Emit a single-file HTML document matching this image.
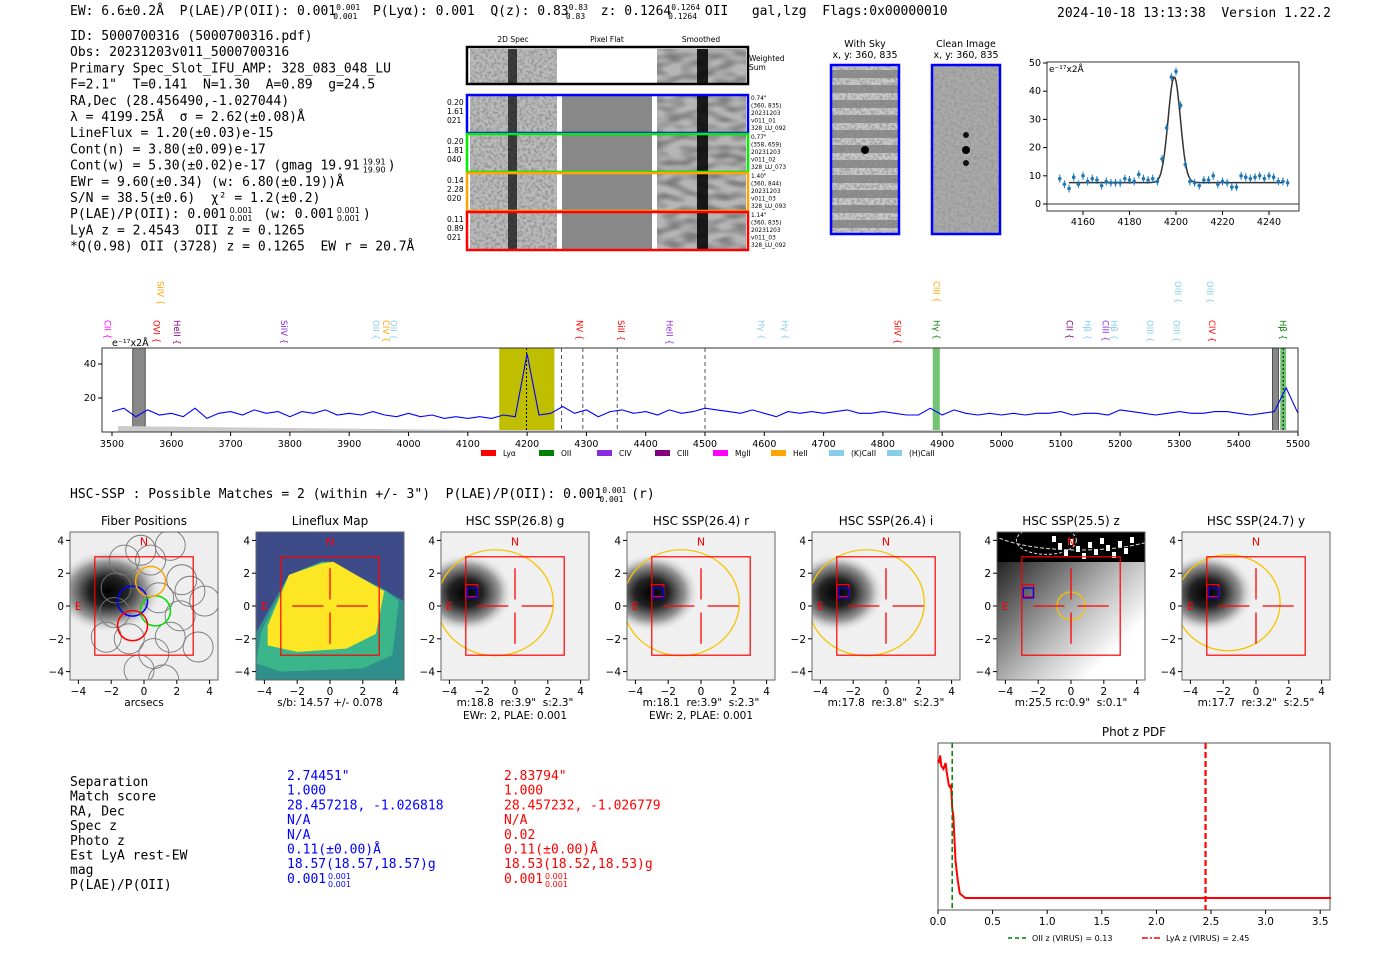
<!DOCTYPE html>
<html><head><meta charset="utf-8">
<style>
body{margin:0;background:#fff;width:1400px;height:953px;overflow:hidden}
svg{display:block}
text{white-space:pre}
.m{font-family:"DejaVu Sans Mono","Liberation Mono",monospace;font-size:13px}
.s{font-family:"DejaVu Sans","Liberation Sans",sans-serif}
</style></head>
<body>
<svg id="root" width="1400" height="953" viewBox="0 0 1400 953" xmlns="http://www.w3.org/2000/svg" xml:space="preserve">
<defs>
<filter id="noise" x="0" y="0" width="100%" height="100%"><feTurbulence type="fractalNoise" baseFrequency="0.35" numOctaves="2" seed="3"/><feColorMatrix type="matrix" values="0 0 0 0 0.3  0 0 0 0 0.3  0 0 0 0 0.3  0 0 0 -3 1.8"/></filter>
<filter id="smooth" x="0" y="0" width="100%" height="100%"><feTurbulence type="fractalNoise" baseFrequency="0.06 0.15" numOctaves="1" seed="5"/><feColorMatrix type="matrix" values="0 0 0 0 0.2  0 0 0 0 0.2  0 0 0 0 0.2  0 0 0 -2.5 1.6"/></filter>
<radialGradient id="blob" cx="0.5" cy="0.5" r="0.5"><stop offset="0" stop-color="#000"/><stop offset="0.35" stop-color="#222"/><stop offset="0.7" stop-color="#999"/><stop offset="1" stop-color="#f4f4f4" stop-opacity="0"/></radialGradient>
<linearGradient id="zgrad" x1="0" y1="0" x2="1" y2="1"><stop offset="0" stop-color="#000"/><stop offset="0.55" stop-color="#bbb"/><stop offset="0.8" stop-color="#fff"/></linearGradient>
</defs>

<text class="m" x="70" y="15">EW: 6.6±0.2Å  P(LAE)/P(OII): 0.001<tspan font-size="8" dy="-5">0.001</tspan><tspan font-size="8" dx="-27" dy="9">0.001</tspan><tspan dy="-4">  P(Lyα): 0.001  Q(z): 0.83</tspan><tspan font-size="8" dy="-5">0.83</tspan><tspan font-size="8" dx="-22" dy="9">0.83</tspan><tspan dy="-4">  z: 0.1264</tspan><tspan font-size="8" dy="-5">0.1264</tspan><tspan font-size="8" dx="-32" dy="9">0.1264</tspan><tspan dy="-4"> OII   gal,lzg  Flags:0x00000010</tspan></text>
<text class="m" x="1057" y="17">2024-10-18 13:13:38  Version 1.22.2</text>

<g id="info"></g>
<g id="spec2d"></g>
<g id="fit"></g>
<g id="spec"></g>
<text class="m" x="70" y="498">HSC-SSP : Possible Matches = 2 (within +/- 3")  P(LAE)/P(OII): 0.001<tspan font-size="8" dy="-5">0.001</tspan><tspan font-size="8" dx="-27" dy="9">0.001</tspan><tspan dy="-4"> (r)</tspan></text>
<g id="cut"></g>
<g id="tbl"></g>
<g id="pdf"></g>
</svg>
<script>
// ---------- DATA ----------
const infoLines=['ID: 5000700316 (5000700316.pdf)','Obs: 20231203v011_5000700316','Primary Spec_Slot_IFU_AMP: 328_083_048_LU','F=2.1"  T=0.141  N=1.30  A=0.89  g=24.5','RA,Dec (28.456490,-1.027044)','λ = 4199.25Å  σ = 2.62(±0.08)Å','LineFlux = 1.20(±0.03)e-15','Cont(n) = 3.80(±0.09)e-17','Cont(w) = 5.30(±0.02)e-17 (gmag 19.91','EWr = 9.60(±0.34) (w: 6.80(±0.19))Å','S/N = 38.5(±0.6)  χ² = 1.2(±0.2)','P(LAE)/P(OII): 0.001','LyA z = 2.4543  OII z = 0.1265','*Q(0.98) OII (3728) z = 0.1265  EW r = 20.7Å'];
const specStart=3500, specStep=20;
const specFlux=[12,14,9,13,10,11,9,14,8,11,12,10,13,11,12,9,12,11,13,10,11,10,12,10,9,11,9,10,8,9,8,9,8,10,9,46,10,11,15,11,13,9,12,13,11,12,10,13,11,12,14,13,12,11,13,11,9,12,11,12,11,12,13,11,11,12,11,10,10,14,10,13,11,10,11,10,11,10,11,11,12,10,11,11,10,13,12,11,10,11,12,11,11,12,12,11,10,11,12,26,11];
const specTicks=[3500,3600,3700,3800,3900,4000,4100,4200,4300,4400,4500,4600,4700,4800,4900,5000,5100,5200,5300,5400,5500];
const specYTicks=[20,40];
const lineNames=['CII','OVI','HeII','SiIV','SiIV','OII','CIV','OII','NV','SiII','HeII','Hγ','Hγ','SiIV','Hγ','CIII','CII','Hβ','CIII','Hβ','OIII','OIII','CIV','OIII','OIII','Hβ'];
const lineWaves=[3492,3575,3610,3790,3582,3945,3962,3975,4288,4358,4440,4595,4635,4825,4890,4890,5115,5145,5175,5190,5250,5295,5355,5298,5352,5475];
const lineRow=[1,1,1,1,0,1,1,1,1,1,1,1,1,1,1,0,1,1,1,1,1,1,1,0,0,1];
const lineColors=['#ff00ff','#ff0000','#800080','#8a2be2','#ffa500','#87ceeb','#ffa500','#87ceeb','#ff0000','#ff0000','#8a2be2','#87ceeb','#87ceeb','#ff0000','#008000','#ffa500','#800080','#87ceeb','#8a2be2','#87ceeb','#87ceeb','#87ceeb','#ff0000','#87ceeb','#87ceeb','#008000'];
const legendNames=['Lyα','OII','CIV','CIII','MgII','HeII','(K)CaII','(H)CaII'];
const legendColors=['#ff0000','#008000','#8a2be2','#800080','#ff00ff','#ffa500','#87ceeb','#87ceeb'];
const fitWave=[4150,4152,4154,4156,4158,4160,4162,4164,4166,4168,4170,4172,4174,4176,4178,4180,4182,4184,4186,4188,4190,4192,4194,4196,4198,4200,4202,4204,4206,4208,4210,4212,4214,4216,4218,4220,4222,4224,4226,4228,4230,4232,4234,4236,4238,4240,4242,4244,4246,4248];
const fitFlux=[9,7,5.5,9.5,7,10,8,9,8.5,6.5,8,7.5,7.5,7.5,9,8.5,8,10.5,9,8.5,9,8,16,27,45,47,35,14,8,7.5,6.5,8.5,8.5,10,7,8,7.5,6,6,10,9.5,9,9.5,10,9,10,9.5,8,8,7.5];
const fitTicksX=[4160,4180,4200,4220,4240];
const fitTicksY=[0,10,20,30,40,50];
const fitCont=7.6, fitAmp=37.5, fitCenter=4199.25, fitSigma=2.62;
const pdfZ=[0,0.01,0.02,0.03,0.05,0.07,0.08,0.1,0.11,0.12,0.13,0.14,0.15,0.16,0.18,0.2,0.25,0.5,1,2,3,3.6];
const pdfP=[0.92,0.9,0.95,0.88,0.86,0.9,0.84,0.75,0.74,0.75,0.6,0.55,0.4,0.25,0.12,0.03,0.0,0.0,0.0,0.0,0.0,0.0];
const pdfTicks=[0,0.5,1,1.5,2,2.5,3,3.5];
const oiiZ=0.13, lyaZ=2.45;
const panelTitles=['Fiber Positions','Lineflux Map','HSC SSP(26.8) g','HSC SSP(26.4) r','HSC SSP(26.4) i','HSC SSP(25.5) z','HSC SSP(24.7) y'];
const panelX=[70,256,441,627,812,997,1182];
const panelCap1=['arcsecs','s/b: 14.57 +/- 0.078','m:18.8  re:3.9"  s:2.3"','m:18.1  re:3.9"  s:2.3"','m:17.8  re:3.8"  s:2.3"','m:25.5 rc:0.9"  s:0.1"','m:17.7  re:3.2"  s:2.5"'];
const panelCap2=['','','EWr: 2, PLAE: 0.001','EWr: 2, PLAE: 0.001','','',''];
const axTicks=[-4,-2,0,2,4];
const tblLabels=['Separation','Match score','RA, Dec','Spec z','Photo z','Est LyA rest-EW','mag','P(LAE)/P(OII)'];
const tblBlue=['2.74451"','1.000','28.457218, -1.026818','N/A','N/A','0.11(±0.00)Å','18.57(18.57,18.57)g','0.001'];
const tblRed=['2.83794"','1.000','28.457232, -1.026779','N/A','0.02','0.11(±0.00)Å','18.53(18.52,18.53)g','0.001'];
const rowInfo=[['0.20','1.61','021'],['0.20','1.81','040'],['0.14','2.28','020'],['0.11','0.89','021']];
const rowMeta=[['0.74"','(360, 835)','20231203','v011_01','328_LU_092'],['0.77"','(358, 659)','20231203','v011_02','328_LU_073'],['1.40"','(360, 844)','20231203','v011_03','328_LU_093'],['1.14"','(360, 835)','20231203','v011_03','328_LU_092']];
const rowColors=['#0000ff','#00ee00','#ffa500','#ff0000'];

// ---------- helpers ----------
const NS='http://www.w3.org/2000/svg';
function mk(p,tag,a,txt){const e=document.createElementNS(NS,tag);for(const k in a)e.setAttribute(k,a[k]);if(txt!==undefined)e.textContent=txt;p.appendChild(e);return e;}
const $=id=>document.getElementById(id);
const CW=7.83;

const info=$('info');
infoLines.forEach((t,i)=>{const e=mk(info,'text',{class:'m',x:70,y:40+i*16.2},t);

});
function sup(x,y,a,b){mk(info,'text',{class:'s','font-size':8,x:x,y:y-5},a);mk(info,'text',{class:'s','font-size':8,x:x,y:y+3},b);}
{const y=40+8*16.2;const x=70+infoLines[8].length*CW+3;sup(x,y,'19.91','19.90');mk(info,'text',{class:'m',x:x+25,y:y},')');}
{const y=40+11*16.2;let x=70+infoLines[11].length*CW+3;sup(x,y,'0.001','0.001');x+=26;mk(info,'text',{class:'m',x:x,y:y},' (w: 0.001');x+=10*CW+3;sup(x,y,'0.001','0.001');mk(info,'text',{class:'m',x:x+26,y:y},')');}

// 2D spectra
const s2=$('spec2d');
[['2D Spec',513],['Pixel Flat',607],['Smoothed',701]].forEach(([t,x])=>{const e=mk(s2,'text',{class:'s','font-size':7.5,x:x,y:42,'text-anchor':'middle'},t);

});
function strip(y,h,white){
 mk(s2,'rect',{x:470,y:y,width:87,height:h,fill:'#bbb'});
 mk(s2,'rect',{x:470,y:y,width:87,height:h,filter:'url(#noise)'});
 mk(s2,'rect',{x:508,y:y,width:9,height:h,fill:'#111',opacity:0.75});
 mk(s2,'rect',{x:562,y:y,width:90,height:h,fill:white?'#fff':'#888'});
 mk(s2,'rect',{x:657,y:y,width:89,height:h,fill:'#b5b5b5'});
 mk(s2,'rect',{x:657,y:y,width:89,height:h,filter:'url(#smooth)'});
 mk(s2,'rect',{x:697,y:y,width:11,height:h,fill:'#000',opacity:0.85});
}
strip(49,34,true);
const wb=mk(s2,'rect',{x:467,y:47,width:281,height:37,fill:'none',stroke:'#000','stroke-width':2.5});


mk(s2,'text',{class:'s','font-size':7.5,x:749,y:61},'Weighted');
mk(s2,'text',{class:'s','font-size':7.5,x:749,y:70},'Sum');
rowColors.forEach((c,i)=>{const y=96+i*39;strip(y,36,false);
 const b=mk(s2,'rect',{x:467,y:y-1,width:281,height:38,fill:'none',stroke:c,'stroke-width':2.5});
 
 
 rowInfo[i].forEach((t,j)=>mk(s2,'text',{class:'s','font-size':7.5,x:447,y:y+9+j*9},t));
 rowMeta[i].forEach((t,j)=>mk(s2,'text',{class:'s','font-size':5.8,x:751,y:y+4+j*7.5},t));
});
[['With Sky',865,'#c8c8c8'],['Clean Image',966,'#aaa']].forEach(([t,cx,f],k)=>{
 mk(s2,'text',{class:'s','font-size':9.5,x:cx,y:47,'text-anchor':'middle'},t);
 mk(s2,'text',{class:'s','font-size':9.5,x:cx,y:58,'text-anchor':'middle'},'x, y: 360, 835');
 mk(s2,'rect',{x:cx-33,y:66,width:66,height:167,fill:f});
 if(k==0){for(let i=0;i<11;i++)mk(s2,'rect',{x:cx-33,y:70+i*15,width:66,height:8,fill:'#555',opacity:0.55});}
 mk(s2,'rect',{x:cx-33,y:66,width:66,height:167,filter:'url(#noise)',opacity:0.8});
 mk(s2,'circle',{cx:cx,cy:150,r:4,fill:'#000'});
 if(k==1){mk(s2,'circle',{cx:cx,cy:135,r:3,fill:'#111'});mk(s2,'circle',{cx:cx,cy:163,r:3,fill:'#111'});}
 const b=mk(s2,'rect',{x:cx-34,y:65,width:68,height:169,fill:'none',stroke:'#0000ff','stroke-width':2.5});
 
 
});

// line fit chart
const fit=$('fit');
const fx=w=>1083+(w-4160)*2.325, fy=v=>204-v*2.82;
mk(fit,'rect',{x:1047,y:62,width:252,height:149,fill:'#fff',stroke:'#333','stroke-width':1});
mk(fit,'line',{x1:1047,x2:1299,y1:fy(0),y2:fy(0),stroke:'#333'});
fitTicksX.forEach(t=>{mk(fit,'line',{x1:fx(t),x2:fx(t),y1:211,y2:215,stroke:'#000'});mk(fit,'text',{class:'s','font-size':9.5,x:fx(t),y:225,'text-anchor':'middle'},t);});
fitTicksY.forEach(t=>{mk(fit,'line',{x1:1043,x2:1047,y1:fy(t),y2:fy(t),stroke:'#000'});mk(fit,'text',{class:'s','font-size':9.5,x:1041,y:fy(t)+3,'text-anchor':'end'},t);});
mk(fit,'text',{class:'s','font-size':9,x:1049,y:72},'e⁻¹⁷x2Å');
let fp='';for(let w=4154;w<=4246;w+=0.5){const v=fitCont+fitAmp*Math.exp(-0.5*((w-fitCenter)/fitSigma)**2);fp+=(fp?'L':'M')+fx(w).toFixed(1)+' '+fy(v).toFixed(1);}
const fl=mk(fit,'path',{d:fp,fill:'none',stroke:'#333','stroke-width':1.5});


fitWave.forEach((w,i)=>{
 mk(fit,'line',{x1:fx(w),x2:fx(w),y1:fy(fitFlux[i])-4,y2:fy(fitFlux[i])+4,stroke:'#1f77b4'});
 const p=mk(fit,'circle',{cx:fx(w),cy:fy(fitFlux[i]),r:1.8,fill:'#1f77b4'});
 
 
});

// full spectrum
const sp=$('spec');
const sx=w=>112+(w-3500)*0.593, sy=v=>432-v*1.7;
mk(sp,'rect',{x:102,y:348,width:1196,height:84,fill:'#fff'});
[[3535,3556],[5457,5467]].forEach(([a,b])=>{const r=mk(sp,'rect',{x:sx(a),y:348,width:sx(b)-sx(a),height:84,fill:'#888',stroke:'#333','stroke-width':0.8});});
const hl=mk(sp,'rect',{x:sx(4153),y:348,width:sx(4246)-sx(4153),height:84,fill:'#bfbf00'});


[[4884,4896],[5470,5480]].forEach(([a,b])=>{const r=mk(sp,'rect',{x:sx(a),y:348,width:sx(b)-sx(a),height:84,fill:'#5cb85c',opacity:0.85});});
[4258,4294,4352,4500].forEach(w=>mk(sp,'line',{x1:sx(w),x2:sx(w),y1:348,y2:432,stroke:'#555','stroke-dasharray':'4,3'}));
mk(sp,'line',{x1:sx(4199),x2:sx(4199),y1:348,y2:432,stroke:'#000','stroke-dasharray':'2,2'});
mk(sp,'line',{x1:sx(5475),x2:sx(5475),y1:348,y2:432,stroke:'#000','stroke-dasharray':'2,2'});
mk(sp,'path',{d:`M${sx(3510)} 432L${sx(3510)} 426L${sx(3800)} 428L${sx(4100)} 430L${sx(5500)} 430L${sx(5500)} 432Z`,fill:'#ccc'});
let sd='';specFlux.forEach((v,i)=>{sd+=(i?'L':'M')+sx(specStart+i*specStep).toFixed(1)+' '+sy(v).toFixed(1);});
const sl=mk(sp,'path',{d:sd,fill:'none',stroke:'#0000ff','stroke-width':1.1});


mk(sp,'rect',{x:102,y:348,width:1196,height:84,fill:'none',stroke:'#333'});
specTicks.forEach(t=>{mk(sp,'line',{x1:sx(t),x2:sx(t),y1:432,y2:436,stroke:'#000'});const e=mk(sp,'text',{class:'s','font-size':9.5,x:sx(t),y:447,'text-anchor':'middle'},t);});
specYTicks.forEach(t=>{mk(sp,'line',{x1:98,x2:102,y1:sy(t),y2:sy(t),stroke:'#000'});mk(sp,'text',{class:'s','font-size':9.5,x:96,y:sy(t)+3,'text-anchor':'end'},t);});
mk(sp,'text',{class:'s','font-size':9.5,x:112,y:346},'e⁻¹⁷x2Å');
lineNames.forEach((n,i)=>{const x=sx(lineWaves[i]);const y=lineRow[i]?320:281;
 const e=mk(sp,'text',{class:'s','font-size':8.5,fill:lineColors[i],transform:`translate(${x-3},${y}) rotate(90)`},n+' {');
 
 });
legendNames.forEach((n,i)=>{const x=481+i*58;
 mk(sp,'rect',{x:x,y:450,width:15,height:6,fill:legendColors[i]});
 const e=mk(sp,'text',{class:'s','font-size':7.5,x:x+22,y:456},n);
 
 });

// cutouts
const cut=$('cut');
panelX.forEach((x0,k)=>{
 const cp=mk(document.querySelector('defs'),'clipPath',{id:'cp'+k});
 mk(cp,'rect',{x:x0,y:532,width:148,height:148});
 const g=mk(cut,'g',{});
 
 
 const gi=mk(g,'g',{'clip-path':'url(#cp'+k+')'});
 const u=v=>x0+74+v*16.4, w=v=>606-v*16.4;
 mk(g,'text',{class:'s','font-size':12,x:x0+74,y:525,'text-anchor':'middle'},panelTitles[k]);
 if(k==1){mk(gi,'rect',{x:x0,y:532,width:148,height:148,fill:'#3e4b89'});
  mk(gi,'path',{d:`M${u(-4.5)} ${w(-1.6)}L${u(-2.5)} ${w(1.9)}L${u(-0.5)} ${w(2.7)}L${u(0)} ${w(2.7)}L${u(3.3)} ${w(1.0)}L${u(4.5)} ${w(0.3)}L${u(4.5)} ${w(-4.5)}L${u(-4.5)} ${w(-4.5)}Z`,fill:'#2f8f8a'});
  mk(gi,'path',{d:`M${u(-4.2)} ${w(-1.6)}L${u(-2.5)} ${w(1.9)}L${u(-0.5)} ${w(2.7)}L${u(0)} ${w(2.7)}L${u(3.3)} ${w(1.0)}L${u(4.2)} ${w(0.3)}L${u(3.8)} ${w(-3)}L${u(2)} ${w(-3.8)}L${u(-3)} ${w(-4)}L${u(-4.5)} ${w(-3.5)}Z`,fill:'#3bb58a'});
  mk(gi,'path',{d:`M${u(-3.8)} ${w(-1.2)}L${u(-2.5)} ${w(1.9)}L${u(-0.5)} ${w(2.6)}L${u(0.2)} ${w(2.7)}L${u(3.3)} ${w(0.9)}L${u(2.8)} ${w(-1.7)}L${u(1)} ${w(-2.6)}L${u(-2)} ${w(-2.8)}L${u(-3.8)} ${w(-2.4)}Z`,fill:'#fde725'});}
 else if(k==5){mk(gi,'rect',{x:x0,y:532,width:148,height:148,fill:'url(#zgrad)'});
  mk(gi,'rect',{x:x0,y:532,width:148,height:30,fill:'#000'});
  for(let i=0;i<14;i++)mk(gi,'rect',{x:x0+55+i*6,y:536+(i*7)%18,width:4,height:6,fill:'#fff'});
  mk(gi,'ellipse',{cx:u(-1.5),cy:w(4),rx:30,ry:14,fill:'none',stroke:'#ddd','stroke-dasharray':'3,2'});
  mk(gi,'ellipse',{cx:u(0.5),cy:w(5),rx:95,ry:26,fill:'none',stroke:'#ddd','stroke-dasharray':'4,2'});
  mk(gi,'circle',{cx:u(0),cy:w(0),r:14,fill:'none',stroke:'#f5c400','stroke-width':1.3});}
 else {mk(gi,'rect',{x:x0,y:532,width:148,height:148,fill:k==0?'#eee':'#f0f0f0'});
  if(k==0){mk(gi,'ellipse',{cx:u(-2.2),cy:w(0.9),rx:55,ry:42,fill:'url(#blob)'});}
  else{mk(gi,'ellipse',{cx:u(-3),cy:w(0.8),rx:48,ry:40,fill:'url(#blob)'});
   mk(gi,'ellipse',{cx:u(k==6?-1.7:-1.2),cy:w(0.2),rx:k==6?52:58,ry:k==6?48:53,fill:'none',stroke:'#f5c400','stroke-width':1.3});}}
 if(k==0){const fib=[[-1.7,1.1],[0.9,0.5],[-1.8,-0.4],[-2.3,-1.9],[-0.9,-2],[0.6,-2.9],[1.6,-1.9],[2.2,-0.6],[2.8,0.9],[2.3,1.6],[-1.2,2.8],[0.4,2.8],[-0.2,3.4],[1.6,3.7],[3.3,-2.5],[1.2,-4.5],[-0.3,-3.9],[3.7,0.3]];
  fib.forEach(([a,b])=>mk(gi,'circle',{cx:u(a),cy:w(b),r:15,fill:'none',stroke:'#777','stroke-width':0.9}));
  [[-0.7,0.3,'#0000ff'],[0.7,-0.3,'#00dd00'],[0.4,1.5,'#ffa500'],[-0.7,-1.2,'#ff0000']].forEach(([a,b,c])=>mk(gi,'circle',{cx:u(a),cy:w(b),r:15,fill:'none',stroke:c,'stroke-width':1.5}));}
 if(k>=2){mk(g,'rect',{x:u(-3),y:w(1.3),width:12,height:12,fill:'none',stroke:'#ff0000','stroke-width':1.3});
  mk(g,'rect',{x:u(-2.9),y:w(1.1),width:10,height:10,fill:'none',stroke:'#0000ff','stroke-width':1.3});}
 mk(g,'rect',{x:u(-3),y:w(3),width:98.4,height:98.4,fill:'none',stroke:'#ff0000','stroke-width':1.2});
 if(k>0){mk(g,'path',{d:`M${u(-2.3)} ${w(0)}H${u(-0.4)}M${u(0.4)} ${w(0)}H${u(2.3)}M${u(0)} ${w(2.3)}V${w(0.4)}M${u(0)} ${w(-0.4)}V${w(-2.3)}`,stroke:'#ff0000','stroke-width':1.3});}
 mk(g,'text',{class:'s','font-size':11,fill:'#ff0000',x:u(0),y:w(3.7),'text-anchor':'middle'},'N');
 mk(g,'text',{class:'s','font-size':11,fill:'#ff0000',x:u(-4),y:w(0)+4,'text-anchor':'middle'},'E');
 mk(g,'rect',{x:x0,y:532,width:148,height:148,fill:'none',stroke:'#666'});
 axTicks.forEach(t=>{mk(g,'line',{x1:u(t),x2:u(t),y1:680,y2:684,stroke:'#000'});
  mk(g,'text',{class:'s','font-size':10.5,x:u(t),y:695,'text-anchor':'middle'},t<0?'−'+(-t):t);
  mk(g,'line',{x1:x0-4,x2:x0,y1:w(t),y2:w(t),stroke:'#000'});
  mk(g,'text',{class:'s','font-size':10.5,x:x0-6,y:w(t)+4,'text-anchor':'end'},t<0?'−'+(-t):t);});
 mk(g,'text',{class:'s','font-size':10.5,x:x0+74,y:706,'text-anchor':'middle'},panelCap1[k]);
 if(panelCap2[k])mk(g,'text',{class:'s','font-size':10.5,x:x0+74,y:719,'text-anchor':'middle'},panelCap2[k]);
});

// table
const tb=$('tbl');
tblLabels.forEach((t,i)=>{const y=786+i*14.7;
 const a=mk(tb,'text',{class:'m',x:70,y:y},t);
 const b=mk(tb,'text',{class:'m',x:287,y:y-6,fill:'#0000ff'},tblBlue[i]);
 const c=mk(tb,'text',{class:'m',x:504,y:y-6,fill:'#ff0000'},tblRed[i]);
 if(i==7){mk(tb,'text',{class:'s','font-size':8,x:328,y:y-10,fill:'#0000ff'},'0.001');mk(tb,'text',{class:'s','font-size':8,x:328,y:y-2,fill:'#0000ff'},'0.001');
  mk(tb,'text',{class:'s','font-size':8,x:545,y:y-10,fill:'#ff0000'},'0.001');mk(tb,'text',{class:'s','font-size':8,x:545,y:y-2,fill:'#ff0000'},'0.001');}
});

// phot z pdf
const pd=$('pdf');
const px=z=>938+z*109.2, py=p=>898-p*150;
mk(pd,'text',{class:'s','font-size':12,x:1134,y:736,'text-anchor':'middle'},'Phot z PDF');
mk(pd,'rect',{x:938,y:743,width:392,height:167,fill:'#fff',stroke:'#555'});
let pp='';pdfZ.forEach((z,i)=>{pp+=(i?'L':'M')+px(z).toFixed(1)+' '+py(pdfP[i]).toFixed(1);});
const pl=mk(pd,'path',{d:pp,fill:'none',stroke:'#ff0000','stroke-width':2});


const o=mk(pd,'line',{x1:px(oiiZ),x2:px(oiiZ),y1:743,y2:910,stroke:'#008000','stroke-width':1.5,'stroke-dasharray':'5,3'});


const l=mk(pd,'line',{x1:px(lyaZ),x2:px(lyaZ),y1:743,y2:910,stroke:'#ff0000','stroke-width':2.2,'stroke-dasharray':'6,3'});


pdfTicks.forEach(t=>{mk(pd,'line',{x1:px(t),x2:px(t),y1:910,y2:914,stroke:'#000'});mk(pd,'text',{class:'s','font-size':10.5,x:px(t),y:925,'text-anchor':'middle'},t.toFixed(1));});
mk(pd,'line',{x1:1008,x2:1026,y1:938,y2:938,stroke:'#008000','stroke-width':1.5,'stroke-dasharray':'4,3'});
const le1=mk(pd,'text',{class:'s','font-size':8,x:1032,y:941},'OII z (VIRUS) = 0.13');


mk(pd,'line',{x1:1142,x2:1160,y1:938,y2:938,stroke:'#ff0000','stroke-width':1.5,'stroke-dasharray':'6,2,2,2'});
const le2=mk(pd,'text',{class:'s','font-size':8,x:1166,y:941},'LyA z (VIRUS) = 2.45');


</script>
</body></html>
